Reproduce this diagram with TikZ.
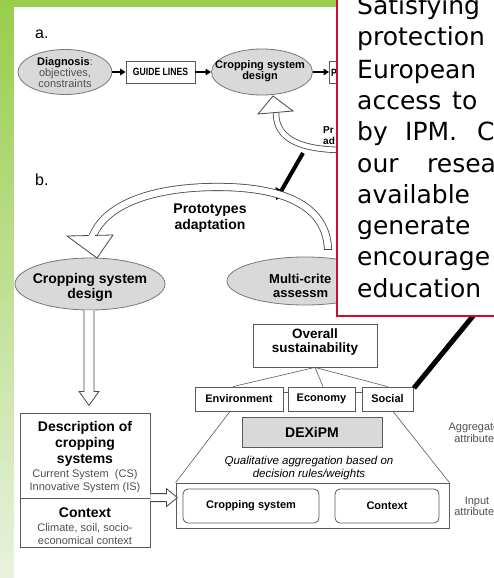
\documentclass[tikz,border=0pt]{standalone}
\usepackage{fontspec}
\setmainfont{Liberation Sans}
\newfontfamily\dejavufont{DejaVu Sans}
\newfontfamily\narrowfont[FakeStretch=0.82]{Liberation Sans}
\usetikzlibrary{shapes.geometric,arrows.meta,calc}
\definecolor{grn}{RGB}{152,206,76}
\definecolor{grnpale}{RGB}{232,242,222}
\definecolor{ellfill}{RGB}{217,217,217}
\definecolor{ellline}{RGB}{120,120,120}
\definecolor{boxline}{RGB}{90,90,90}
\definecolor{arrline}{RGB}{70,70,70}
\definecolor{txtgrey}{RGB}{80,80,80}
\definecolor{boxred}{RGB}{200,16,46}
\newcommand\myfs[1]{\fontsize{#1}{#1}\selectfont}
\begin{document}
\begin{tikzpicture}[x=1pt,y=-1pt,
  ell/.style={ellipse, draw=ellline, fill=ellfill, line width=0.8pt, inner sep=0pt},
  sqbox/.style={rectangle, draw=boxline, fill=white, line width=0.8pt, inner sep=0pt},
  rbox/.style={rectangle, rounded corners=5pt, draw=boxline, fill=white, line width=0.8pt, inner sep=0pt},
  t/.style={inner sep=0pt, anchor=base},
  tw/.style={inner sep=0pt, anchor=base west},
  blk/.style={-{Triangle[length=5.5pt,width=6.5pt]}, line width=1.8pt, black},
  hollow/.style={draw=arrline, fill=white, line width=0.8pt, line join=miter},
  band/.style={draw=arrline, line width=0.8pt, double=white},
  thinl/.style={draw=boxline, line width=0.6pt},
  redbox/.style={rectangle, draw=boxred, line width=2pt, fill=white, inner sep=0pt},
  big/.style={inner sep=0pt, anchor=base west, font=\dejavufont\myfs{25}, text=black},
]
\useasboundingbox (0,0) rectangle (494,578);
\fill[white] (0,0) rectangle (494,578);
\foreach \k in {0,...,57} {
  \pgfmathsetmacro\mixv{100*\k/57}
  \fill[grnpale!\mixv!grn] (0,\k*10) rectangle (14,\k*10+10.6);
}
\fill[grn] (0,0) rectangle (336,7);

% ---------- part a ----------
\node[tw, font=\myfs{16}] (la) at (35,38) {a.};
\node[ell, minimum width=94pt, minimum height=45pt] (diag) at (65,72) {};
\node[t, font=\myfs{11}] (diag1) at (65,66) {\textbf{Diagnosis}\textcolor{txtgrey}{:}};
\node[t, font=\myfs{11}, text=txtgrey] (diag2) at (65,77) {objectives,};
\node[t, font=\myfs{11}, text=txtgrey] (diag3) at (65,88) {constraints};
\node[sqbox, minimum width=69pt, minimum height=22pt, font=\narrowfont\bfseries\myfs{10.5}] (guide) at (160.5,72) {GUIDE LINES};
\node[ell, minimum width=101pt, minimum height=46pt] (cropa) at (262,72) {};
\node[t, font=\bfseries\myfs{11}] (cropa1) at (260,69) {Cropping system};
\node[t, font=\bfseries\myfs{11}] (cropa2) at (260,80) {design};
\node[sqbox, minimum width=72pt, minimum height=22pt, anchor=west] (pbox) at (329,72) {};
\node[tw, font=\narrowfont\bfseries\myfs{10.5}] (ptxt) at (331,76) {P};
\draw[blk] (diag) -- (guide);
\draw[blk] (guide) -- (cropa);
\draw[blk] (cropa) -- (pbox);

\coordinate (qa0) at (345,150);
\coordinate (qa1) at (276,113);
\draw[band, double distance=4.8pt] (qa0) .. controls (302,150) and (276,140) .. (qa1);
\draw[hollow] (258,114) -- (273,96) -- (293,111) -- cycle;
\node[tw, font=\bfseries\myfs{10}] (pra1) at (323,133) {Pr};
\node[tw, font=\bfseries\myfs{10}] (pra2) at (323,144) {ad};

\coordinate (k1) at (303,153);
\coordinate (k2) at (276,200);
\draw[line width=4pt, -{Triangle[length=11pt,width=13pt]}] (k1) -- (k2);

% ---------- part b ----------
\node[tw, font=\myfs{16}] (lb) at (35,185) {b.};
\node[ell, minimum width=150pt, minimum height=52pt] (cropb) at (90,284) {};
\node[t, font=\bfseries\myfs{14}] (cropb1) at (90,283) {Cropping system};
\node[t, font=\bfseries\myfs{14}] (cropb2) at (90,298) {design};
\node[ell, minimum width=156pt, minimum height=48pt] (multi) at (305,281) {};
\node[tw, font=\bfseries\myfs{13}] (multi1) at (269,283) {Multi-crite};
\node[tw, font=\bfseries\myfs{13}] (multi2) at (273,297) {assessm};
\node[t, font=\bfseries\myfs{14}] (pb1) at (210,213) {Prototypes};
\node[t, font=\bfseries\myfs{14}] (pb2) at (210,229) {adaptation};

\draw[band, double distance=6.5pt] (328,249) .. controls (326,200) and (272,186) .. (212,187) .. controls (150,188) and (104,205) .. (92,238);
\draw[arrline, line width=0.8pt] (323.95,249) -- (332.05,249);
\draw[hollow] (67,236) -- (113,235) -- (97,258) -- cycle;
\draw[white, line width=1.4pt] (88.6,235.6) -- (95,235.5);

% description box
\node[sqbox, minimum width=130pt, minimum height=85pt] (descbox) at (85,455.5) {};
\node[sqbox, minimum width=130pt, minimum height=49pt] (ctxdesc) at (85,522.5) {};
\node[t, font=\bfseries\myfs{14}] (d1) at (85,431) {Description of};
\node[t, font=\bfseries\myfs{14}] (d2) at (85,447) {cropping};
\node[t, font=\bfseries\myfs{14}] (d3) at (85,463) {systems};
\node[t, font=\myfs{11}, text=txtgrey] (d4) at (85,477) {Current System~ (CS)};
\node[t, font=\myfs{11}, text=txtgrey] (d5) at (85,490) {Innovative System (IS)};
\node[t, font=\bfseries\myfs{14}] (c1) at (85,517) {Context};
\node[t, font=\myfs{11}, text=txtgrey] (c2) at (85,531) {Climate, soil, socio-};
\node[t, font=\myfs{11}, text=txtgrey] (c3) at (85,544) {economical context};

% hollow straight arrows
\draw[hollow] ($(cropb.south)+(-6,0)$) -- ++(0,81) -- ++(-5,0) -- ++(10,14) -- ++(10,-14) -- ++(-5,0) -- ($(cropb.south)+(4,0)$);

% DEXiPM structure
\node[sqbox, minimum width=124pt, minimum height=43pt] (overall) at (315,345.5) {};
\node[t, font=\bfseries\myfs{13.5}] (ov1) at (315,338) {Overall};
\node[t, font=\bfseries\myfs{13.5}] (ov2) at (315,352) {sustainability};
\node[sqbox, minimum width=88pt, minimum height=24pt, font=\bfseries\myfs{11}] (env) at (239,399) {Environment};
\node[sqbox, minimum width=67pt, minimum height=24pt, font=\bfseries\myfs{11}] (econ) at (321.5,399) {Economy};
\node[sqbox, minimum width=51pt, minimum height=24pt, font=\bfseries\myfs{11}] (social) at (387.5,399) {Social};
\draw[thinl] (overall.south) -- ([xshift=-6pt]env.north);
\draw[thinl] (overall.south) -- ([xshift=1.5pt]econ.north);
\draw[thinl] (overall.south) -- (social.north);
\draw[thinl] ([yshift=7pt]env.east) -- ([yshift=7pt]econ.west);
\draw[thinl] ([yshift=7pt]econ.east) -- ([yshift=7pt]social.west);

\node[sqbox, minimum width=273pt, minimum height=45pt] (lowbox) at (312.5,505.5) {};
\draw[thinl] (lowbox.north west) -- ([xshift=-9pt]env.south);
\draw[thinl] (lowbox.north east) -- ([xshift=5.5pt]social.south);
\node[sqbox, fill=ellfill, minimum width=140pt, minimum height=30pt, font=\bfseries\myfs{14}] (dex) at (312,432) {DEXiPM};
\node[t, font=\itshape\myfs{11.5}] (q1) at (309,464) {Qualitative aggregation based on};
\node[t, font=\itshape\myfs{11.5}] (q2) at (309,477) {decision rules/weights};
\node[rbox, minimum width=136pt, minimum height=34pt, font=\bfseries\myfs{11}] (csbox) at (251,506) {Cropping system};
\node[rbox, minimum width=104pt, minimum height=34pt, font=\bfseries\myfs{11}] (ctxbox) at (387,506) {Context};

\draw[hollow] ($(ctxdesc.north east)+(0,-4)$) -- ++(16,0) -- ++(0,-5) -- ++(11,9) -- ++(-11,9) -- ++(0,-5) -- ++(-16,0);

\node[t, font=\myfs{11}, text=txtgrey] (ag1) at (477,430) {Aggregated};
\node[t, font=\myfs{11}, text=txtgrey] (ag2) at (477,442) {attributes};
\node[t, font=\myfs{11}, text=txtgrey] (in1) at (477,504) {Input};
\node[t, font=\myfs{11}, text=txtgrey] (in2) at (477,515) {attributes};

% callout line
\coordinate (cl0) at (414,388);
\coordinate (cl1) at (482,305);
\draw[line width=5pt, black] (cl0) -- (cl1);

% ---------- text box ----------
\node[redbox, anchor=south west, minimum width=170pt, minimum height=330pt] (tbox) at (336,317) {};
\node[big] (w0) at (357,15) {Satisfying};
\node[big] (w1) at (357,46) {protection};
\node[big] (w2) at (357,78) {European};
\node[big] (w3a) at (357,109) {access};
\node[big] (w3b) at (452,109) {to};
\node[big] (w4a) at (357,140) {by};
\node[big] (w4b) at (405,140) {IPM.};
\node[big] (w4c) at (477,140) {C};
\node[big] (w5a) at (357,172) {our};
\node[big] (w5b) at (427,172) {resea};
\node[big] (w6) at (357,203) {available};
\node[big] (w7) at (357,234) {generate};
\node[big] (w8) at (357,265) {encourage};
\node[big] (w9) at (357,297) {education};
\end{tikzpicture}
\end{document}
